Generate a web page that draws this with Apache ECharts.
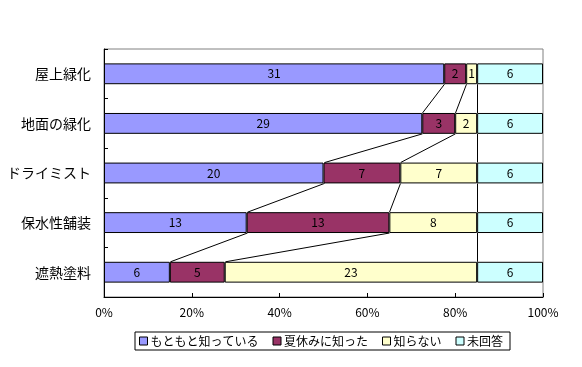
<!DOCTYPE html>
<html><head><meta charset="utf-8">
<script src="https://cdn.jsdelivr.net/npm/echarts@6/dist/echarts.min.js"></script>
<style>html,body{margin:0;padding:0;background:#fff}#c{width:582px;height:367px}</style>
</head><body><div id="c"></div>
<script>
const categories = ['屋上緑化', '地面の緑化', 'ドライミスト', '保水性舗装', '遮熱塗料'];
const seriesNames = ['もともと知っている', '夏休みに知った', '知らない', '未回答'];
const knewBefore = [31, 29, 20, 13, 6];
const learnedSummer = [2, 3, 7, 13, 5];
const dontKnow = [1, 2, 7, 8, 23];
const noAnswer = [6, 6, 6, 6, 6];
const xTickLabels = ['0%', '20%', '40%', '60%', '80%', '100%'];
const colors = ['#9999FF', '#993366', '#FFFFCC', '#CCFFFF'];

const raw = [knewBefore, learnedSummer, dontKnow, noAnswer];
const totals = categories.map((_, i) => raw.reduce((s, a) => s + a[i], 0));
const pct = raw.map(a => a.map((v, i) => v / totals[i] * 100));
const BAR_FRAC = 0.42;
const FONT = '"Noto Sans CJK JP", sans-serif';

// series-line data: boundaries between consecutive bars
const lineData = [];
for (let i = 0; i < categories.length - 1; i++) {
  let c0 = 0, c1 = 0;
  for (let k = 0; k < raw.length - 1; k++) {
    c0 += pct[k][i]; c1 += pct[k][i + 1];
    lineData.push([i, c0, c1]);
  }
}

const barSeries = raw.map((arr, k) => ({
  name: seriesNames[k],
  type: 'bar',
  stack: 'total',
  barWidth: (BAR_FRAC * 100) + '%',
  itemStyle: { color: colors[k], borderColor: '#000', borderWidth: 1 },
  label: {
    show: true, position: 'inside', color: '#000', fontSize: 12, fontFamily: FONT,
    formatter: p => String(arr[p.dataIndex])
  },
  emphasis: { disabled: true },
  data: pct[k]
}));

const snap = v => Math.round(v) + 0.5;

const chart = echarts.init(document.getElementById('c'), null, { renderer: 'canvas' });
chart.setOption({
  animation: false,
  textStyle: { fontFamily: FONT },
  grid: { left: 104, right: 39, top: 49, bottom: 70, show: true, borderColor: '#808080', borderWidth: 1 },
  xAxis: {
    type: 'value', min: 0, max: 100, interval: 20,
    axisLine: { show: true, lineStyle: { color: '#000' } },
    axisTick: { show: true, inside: true, length: 4, lineStyle: { color: '#000' } },
    splitLine: { show: false },
    axisLabel: { color: '#000', fontSize: 12, fontFamily: FONT, margin: 9,
      formatter: v => xTickLabels[Math.round(v / 20)] }
  },
  yAxis: {
    type: 'category', data: categories, inverse: true,
    axisLine: { show: true, lineStyle: { color: '#000' } },
    axisTick: { show: true, inside: true, length: 4, lineStyle: { color: '#000' } },
    axisLabel: { color: '#000', fontSize: 14, fontFamily: FONT, margin: 13 }
  },
  legend: {
    data: seriesNames,
    left: 135, top: 332,
    orient: 'horizontal',
    itemWidth: 8, itemHeight: 8, itemGap: 14,
    icon: 'rect',
    itemStyle: { borderColor: '#000', borderWidth: 1 },
    borderColor: '#000', borderWidth: 1, padding: [3, 7, 3, 4],
    textStyle: { color: '#000', fontSize: 12, fontFamily: FONT, padding: [0, 0, 0, -2] }
  },
  series: barSeries.concat([{
    type: 'custom',
    name: 'serieslines',
    silent: true,
    z: 5,
    encode: { x: [1, 2], y: 0 },
    data: lineData,
    renderItem: (params, api) => {
      const ci = api.value(0);
      const a = api.coord([api.value(1), ci]);
      const b = api.coord([api.value(2), ci + 1]);
      const band = api.size([0, 1])[1];
      const half = band * BAR_FRAC / 2;
      return {
        type: 'line',
        shape: { x1: snap(a[0]), y1: a[1] + half, x2: snap(b[0]), y2: b[1] - half },
        style: { stroke: '#000', lineWidth: 1 }
      };
    }
  }])
});
</script></body></html>
